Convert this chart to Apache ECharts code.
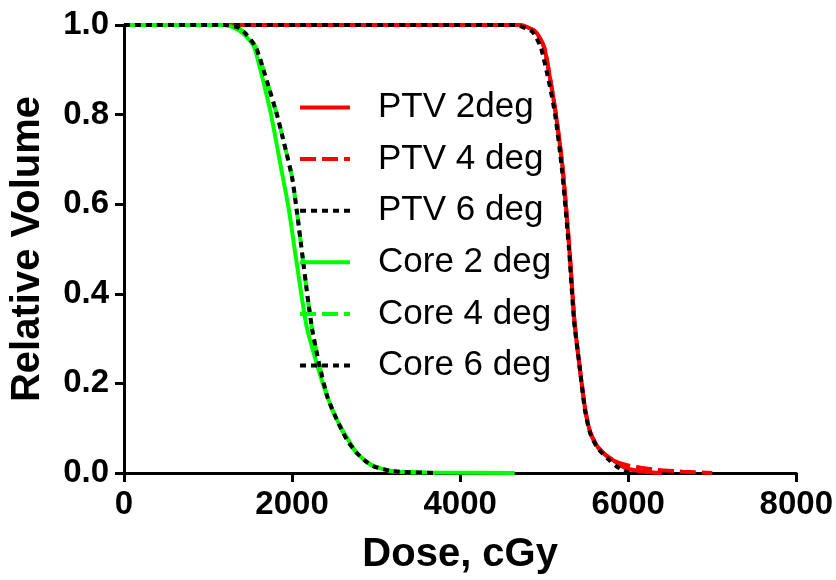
<!DOCTYPE html>
<html>
<head>
<meta charset="utf-8">
<script src="https://cdn.jsdelivr.net/npm/echarts@6/dist/echarts.min.js"></script>
<style>
  html, body { margin: 0; padding: 0; background: #fff; }
  #chart { width: 836px; height: 580px; }
</style>
</head>
<body>
<div id="chart"></div>
<script>
// dose in cGy, relative volume
var xTicks = [0, 2000, 4000, 6000, 8000];
var yTicks = [0, 0.2, 0.4, 0.6, 0.8, 1.0];

var ptv2Dose = [0, 4700, 4800, 4900, 5000, 5080, 5140, 5220, 5300, 5360, 5420, 5490, 5550, 5630, 5720, 5810, 5900, 6000, 6200, 6400];
var ptv2Vol  = [1, 1, 0.995, 0.985, 0.95, 0.87, 0.80, 0.68, 0.50, 0.34, 0.24, 0.14, 0.09, 0.06, 0.042, 0.03, 0.018, 0.009, 0.003, 0];

var ptv4Dose = [0, 4700, 4800, 4900, 5000, 5080, 5140, 5220, 5300, 5360, 5420, 5490, 5550, 5630, 5720, 5810, 5900, 6000, 6150, 6350, 6650, 7000];
var ptv4Vol  = [1, 1, 0.995, 0.985, 0.95, 0.87, 0.80, 0.68, 0.50, 0.34, 0.24, 0.14, 0.09, 0.06, 0.042, 0.03, 0.022, 0.017, 0.012, 0.007, 0.003, 0];

var ptv6Dose = [0, 4650, 4750, 4860, 4960, 5060, 5130, 5210, 5295, 5355, 5420, 5485, 5545, 5620, 5700, 5780, 5860, 5940, 6010];
var ptv6Vol  = [1, 1, 0.995, 0.985, 0.95, 0.87, 0.80, 0.68, 0.50, 0.34, 0.24, 0.14, 0.09, 0.06, 0.042, 0.028, 0.015, 0.006, 0];

var core2Dose = [0, 1200, 1350, 1450, 1550, 1650, 1750, 1870, 1960, 2050, 2170, 2300, 2420, 2530, 2650, 2760, 2870, 2970, 3200, 3600, 4650];
var core2Vol  = [1, 1, 0.99, 0.975, 0.95, 0.88, 0.80, 0.68, 0.59, 0.475, 0.33, 0.24, 0.17, 0.12, 0.08, 0.047, 0.028, 0.016, 0.004, 0.001, 0];

var core4Dose = [0, 1200, 1350, 1450, 1570, 1700, 1820, 1900, 2000, 2060, 2120, 2180, 2240, 2320, 2420, 2530, 2650, 2760, 2870, 2970, 3200, 3700];
var core4Vol  = [1, 1, 0.995, 0.98, 0.95, 0.875, 0.80, 0.74, 0.66, 0.58, 0.49, 0.40, 0.32, 0.245, 0.17, 0.12, 0.075, 0.047, 0.027, 0.015, 0.004, 0];

var core6Dose = [0, 1200, 1350, 1450, 1570, 1700, 1820, 1900, 2000, 2060, 2120, 2180, 2240, 2320, 2420, 2530, 2650, 2760, 2870, 2970, 3200, 3700];
var core6Vol  = [1, 1, 0.995, 0.98, 0.95, 0.875, 0.80, 0.74, 0.66, 0.58, 0.49, 0.40, 0.32, 0.245, 0.17, 0.12, 0.075, 0.047, 0.027, 0.015, 0.004, 0];

function pairs(xs, ys) {
    return xs.map(function (x, i) { return [x, ys[i]]; });
}

function curve(name, xs, ys, color, dash) {
    return {
        name: name,
        type: 'line',
        data: pairs(xs, ys),
        symbol: 'none',
        showSymbol: false,
        smooth: 0.2,
        clip: false,
        lineStyle: {
            color: color,
            width: 4,
            type: dash,
            cap: 'butt'
        },
        itemStyle: { color: color }
    };
}

var chartDom = document.getElementById('chart');
var myChart = echarts.init(chartDom);

var font = '"Liberation Sans", Arial, sans-serif';

var option = {
    animation: false,
    backgroundColor: '#fff',
    grid: {
        left: 124,
        right: 36,
        top: 25,
        bottom: 106
    },
    legend: {
        orient: 'vertical',
        left: 293,
        top: 85,
        itemWidth: 50,
        itemHeight: 20,
        itemGap: 16.6,
        itemStyle: { opacity: 0 },
        lineStyle: { width: 4 },
        textStyle: {
            fontFamily: font,
            fontSize: 35,
            lineHeight: 34,
            color: '#000',
            padding: [0, 0, 0, 23]
        },
        data: ['PTV 2deg', 'PTV 4 deg', 'PTV 6 deg', 'Core 2 deg', 'Core 4 deg', 'Core 6 deg']
    },
    xAxis: {
        type: 'value',
        min: xTicks[0],
        max: xTicks[xTicks.length - 1],
        interval: 2000,
        name: 'Dose, cGy',
        nameLocation: 'middle',
        nameGap: 62,
        nameTextStyle: {
            fontFamily: font,
            fontSize: 40,
            fontWeight: 'bold',
            color: '#000'
        },
        axisLine: { lineStyle: { color: '#000', width: 3 } },
        axisTick: { length: 9, lineStyle: { color: '#000', width: 3 } },
        axisLabel: {
            fontFamily: font,
            fontSize: 33,
            fontWeight: 'bold',
            color: '#000',
            margin: 15,
            formatter: function (v) { return String(v); }
        },
        splitLine: { show: false }
    },
    yAxis: {
        type: 'value',
        min: yTicks[0],
        max: yTicks[yTicks.length - 1],
        interval: 0.2,
        name: 'Relative Volume',
        nameLocation: 'middle',
        nameGap: 76,
        nameTextStyle: {
            fontFamily: font,
            fontSize: 40,
            fontWeight: 'bold',
            color: '#000'
        },
        axisLine: { show: true, lineStyle: { color: '#000', width: 3 } },
        axisTick: { show: true, length: 9, lineStyle: { color: '#000', width: 3 } },
        axisLabel: {
            fontFamily: font,
            fontSize: 33,
            fontWeight: 'bold',
            color: '#000',
            margin: 15,
            formatter: function (v) { return v.toFixed(1); }
        },
        splitLine: { show: false }
    },
    series: [
        curve('PTV 2deg', ptv2Dose, ptv2Vol, '#ff0000', 'solid'),
        curve('PTV 4 deg', ptv4Dose, ptv4Vol, '#ff0000', [16, 6]),
        curve('PTV 6 deg', ptv6Dose, ptv6Vol, '#000000', [6, 5]),
        curve('Core 2 deg', core2Dose, core2Vol, '#00ff00', 'solid'),
        curve('Core 4 deg', core4Dose, core4Vol, '#00ff00', [16, 6]),
        curve('Core 6 deg', core6Dose, core6Vol, '#000000', [6, 5])
    ]
};
myChart.setOption(option);
</script>
</body>
</html>
